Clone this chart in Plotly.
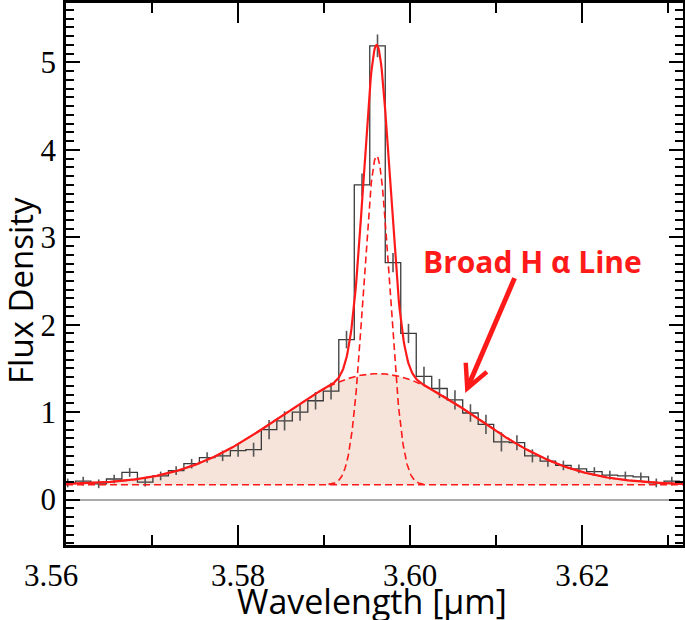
import numpy as np
import plotly.graph_objects as go

# ---------------- data ----------------
bin_centers = [3.5602, 3.5620, 3.5638, 3.5656, 3.5674, 3.5692, 3.5710, 3.5728,
               3.5746, 3.5764, 3.5782, 3.5800, 3.5818, 3.5836, 3.5854, 3.5872,
               3.5890, 3.5908, 3.5926, 3.5944, 3.5962, 3.5980, 3.5998, 3.6016,
               3.6034, 3.6052, 3.6070, 3.6088, 3.6106, 3.6124, 3.6142, 3.6160,
               3.6178, 3.6196, 3.6214, 3.6232, 3.6250, 3.6268, 3.6286, 3.6304,
               3.6322]
bin_width = 0.0018
flux = [0.19, 0.21, 0.18, 0.235, 0.31, 0.20, 0.27, 0.33, 0.41, 0.48,
        0.50, 0.56, 0.57, 0.80, 0.90, 1.00, 1.13, 1.24, 1.83, 3.60,
        5.19, 2.71, 1.90, 1.41, 1.27, 1.14, 0.99, 0.86, 0.66, 0.65,
        0.50, 0.44, 0.39, 0.35, 0.32, 0.28, 0.27, 0.26, 0.19, 0.21,
        0.19]
flux_err = [0.05, 0.05, 0.05, 0.05, 0.05, 0.05, 0.05, 0.05, 0.055, 0.06,
            0.06, 0.07, 0.08, 0.11, 0.11, 0.10, 0.10, 0.095, 0.10, 0.13,
            0.13, 0.11, 0.11, 0.11, 0.11, 0.11, 0.10, 0.11, 0.11, 0.085,
            0.075, 0.065, 0.055, 0.05, 0.05, 0.05, 0.05, 0.05, 0.05, 0.05,
            0.05]

# fitted model parameters
continuum = 0.17
broad_amp, broad_center, broad_sigma = 1.27, 3.5962, 0.01142
narrow_amp, narrow_center, narrow_sigma = 3.76, 3.5961, 0.00150
narrow_span = [3.5905, 3.6019]

x_range = [3.56, 3.6317]
y_range = [-0.52, 5.68]
x_ticks = [3.56, 3.58, 3.60, 3.62]
x_tick_text = ["", "3.58", "3.60", "3.62"]
first_x_label = "3.56"
y_ticks = [0, 1, 2, 3, 4, 5]

RED = "#ff1a1a"

# ---------------- derived ----------------
edges = [c - bin_width / 2 for c in bin_centers] + [bin_centers[-1] + bin_width / 2]
step_y = flux + [flux[-1]]

xm = np.linspace(x_range[0], x_range[1], 900)
cont_y = np.full_like(xm, continuum)
broad_y = continuum + broad_amp * np.exp(-0.5 * ((xm - broad_center) / broad_sigma) ** 2)
narrow_part = narrow_amp * np.exp(-0.5 * ((xm - narrow_center) / narrow_sigma) ** 2)
total_y = broad_y + narrow_part
xn = np.linspace(narrow_span[0], narrow_span[1], 300)
narrow_y = continuum + narrow_amp * np.exp(-0.5 * ((xn - narrow_center) / narrow_sigma) ** 2)

fig = go.Figure()

# shaded broad component
fig.add_trace(go.Scatter(x=xm, y=cont_y, mode="lines",
                         line=dict(color="rgba(0,0,0,0)", width=0),
                         hoverinfo="skip", showlegend=False))
fig.add_trace(go.Scatter(x=xm, y=broad_y, mode="lines", fill="tonexty",
                         fillcolor="rgb(246,228,218)",
                         line=dict(color="rgba(0,0,0,0)", width=0),
                         hoverinfo="skip", showlegend=False))

# observed spectrum (step histogram)
fig.add_trace(go.Scatter(x=edges, y=step_y, mode="lines", line_shape="hv",
                         line=dict(color="#3a3a3a", width=1.3),
                         showlegend=False))
fig.add_trace(go.Scatter(x=bin_centers, y=flux, mode="markers",
                         marker=dict(size=1, color="rgba(0,0,0,0)"),
                         error_y=dict(type="data", array=flux_err, visible=True,
                                      color="#555555", thickness=1.6, width=0),
                         showlegend=False))

# model components
dash = "7px,4px"
fig.add_trace(go.Scatter(x=xm, y=cont_y, mode="lines",
                         line=dict(color=RED, width=1.6, dash=dash),
                         showlegend=False))
fig.add_trace(go.Scatter(x=xm, y=broad_y, mode="lines",
                         line=dict(color=RED, width=1.6, dash=dash),
                         showlegend=False))
fig.add_trace(go.Scatter(x=xn, y=narrow_y, mode="lines",
                         line=dict(color=RED, width=1.6, dash=dash),
                         showlegend=False))
fig.add_trace(go.Scatter(x=xm, y=total_y, mode="lines",
                         line=dict(color=RED, width=2.2),
                         showlegend=False))

# annotation arrow + label
fig.add_annotation(x=3.6064, y=1.22, ax=3.6122, ay=2.55, xref="x", yref="y",
                   axref="x", ayref="y", text="", showarrow=True,
                   arrowhead=5, arrowsize=0.9, arrowwidth=5, arrowcolor=RED)
fig.add_annotation(x=3.6142, y=2.72, xref="x", yref="y", text="<b>Broad H α Line</b>",
                   showarrow=False,
                   font=dict(family="Open Sans", size=30, color=RED))

# axis titles
fig.add_annotation(x=0.496, y=-0.1025, xref="paper", yref="paper",
                   text="Wavelength [μm]", showarrow=False,
                   xanchor="center", yanchor="middle",
                   font=dict(family="Open Sans", size=34, color="black"))
fig.add_annotation(x=-0.0730, y=0.4705, xref="paper", yref="paper",
                   text="Flux Density", showarrow=False, textangle=-90,
                   xanchor="center", yanchor="middle",
                   font=dict(family="Open Sans", size=33, color="black"))
# first x tick label, set slightly left of its tick as in the reference
fig.add_annotation(x=-0.024, y=-0.0554, xref="paper", yref="paper",
                   text=first_x_label, showarrow=False,
                   xanchor="center", yanchor="middle",
                   font=dict(family="Liberation Serif", size=31, color="black"))

axis_common = dict(showgrid=False, showline=True, linecolor="black", linewidth=2.5,
                   mirror="allticks", ticks="inside", tickcolor="black",
                   tickwidth=1.8, automargin=False)

fig.update_xaxes(range=x_range, tickvals=x_ticks, ticktext=x_tick_text,
                 ticklen=20, zeroline=False,
                 tickfont=dict(family="Liberation Serif", size=31, color="black"),
                 minor=dict(dtick=0.01, tick0=3.56, ticklen=10, ticks="inside",
                            tickcolor="black", tickwidth=1.6),
                 ticklabelstandoff=1,
                 **axis_common)
fig.update_yaxes(range=y_range, tickvals=y_ticks, ticklen=14,
                 zeroline=True, zerolinecolor="#aaaaaa", zerolinewidth=1.6,
                 tickfont=dict(family="Liberation Serif", size=31, color="black"),
                 minor=dict(dtick=0.1, tick0=0, ticklen=8, ticks="inside",
                            tickcolor="black", tickwidth=1.6),
                 ticklabelstandoff=1,
                 **axis_common)

fig.update_layout(width=685, height=620, plot_bgcolor="white", paper_bgcolor="white",
                  margin=dict(l=66, r=2, t=3, b=75), showlegend=False)

fig.write_html("out.html", config={"displayModeBar": False},
               post_script="document.body.style.margin='0px';document.body.style.overflow='hidden';")
